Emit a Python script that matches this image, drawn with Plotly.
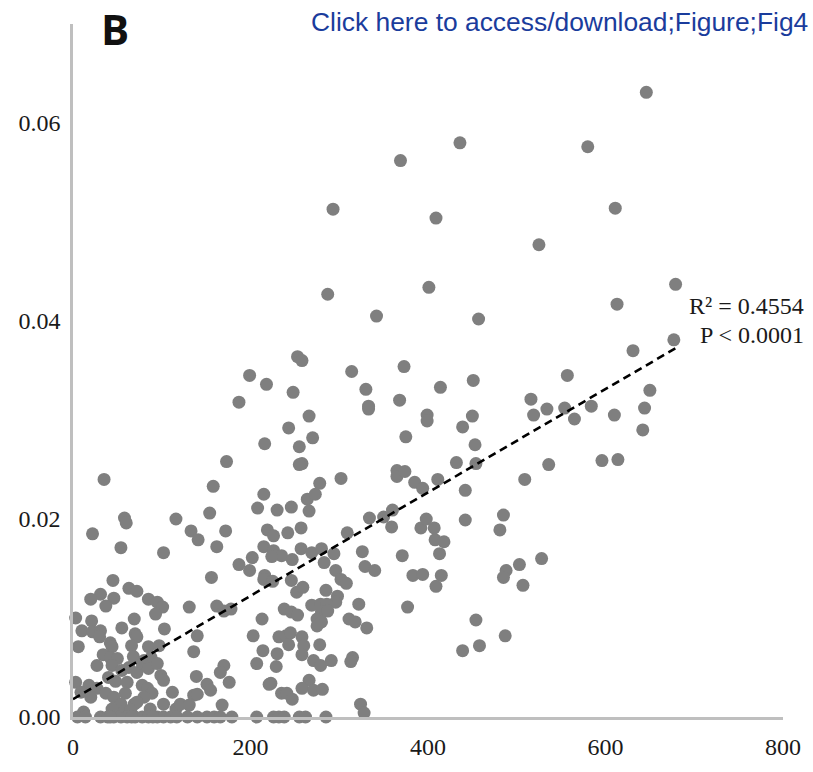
import plotly.graph_objects as go

# ---- data ----
x_vals = [
    646, 580, 436, 369, 611, 293, 409, 525, 679, 401, 287, 613, 457, 342, 677, 631,
    253, 258, 199, 218, 248, 187, 314, 330, 333, 333, 373, 368, 266, 243, 270, 216,
    255, 375, 258, 255, 173, 302, 278, 365, 365, 374, 385, 215, 264, 273, 208, 230,
    246, 266, 172, 219, 226, 242, 257, 334, 350, 360, 359, 309, 392, 215, 226, 235,
    224, 257, 269, 280, 294, 202, 187, 199, 247, 283, 296, 326, 329, 340, 371, 216,
    383, 215, 225, 246, 252, 259, 285, 302, 308, 298, 296, 322, 269, 279, 286, 238,
    246, 253, 280, 287, 275, 280, 275, 178, 377, 213, 311, 318, 331, 203, 232, 240,
    245, 243, 258, 260, 258, 278, 214, 230, 207, 229, 271, 279, 291, 315, 313, 170,
    166, 176, 223, 221, 266, 258, 271, 281, 235, 241, 247, 324, 328, 168,
    45, 63, 72, 31, 20, 46, 37, 85, 95, 101, 93, 131, 156, 162, 170,
    3, 21, 10, 22, 31, 30, 55, 69, 70, 72, 103, 140, 6, 42, 44, 34, 42, 50, 66, 68,
    85, 97, 88, 80, 136, 27, 44, 55, 63, 72, 78, 85, 95, 99, 102, 40, 48, 139,
    3, 18, 27, 61, 59, 78, 84, 89, 80, 112, 151, 155, 136, 140, 9, 20, 37, 46,
    54, 69, 72, 102, 116, 121, 131, 12, 44, 57, 65, 87,
    5, 31, 39, 46, 54, 61, 70, 78, 85, 95, 102, 110, 117, 129, 151, 159, 166, 179,
    207, 226, 232, 238, 255, 262, 285, 42, 66, 90, 140, 14,
    35, 158, 154, 58, 60, 116, 22, 133, 141, 54, 102, 162,
    414, 451, 557, 399, 399, 450, 439, 516, 534, 519, 554, 565, 453, 432, 454, 536,
    394, 411, 442, 509, 398, 407, 442, 485, 481, 408, 418, 413, 394, 415, 409, 528,
    503, 488, 485, 507, 454, 439, 458, 487,
    650, 584, 610, 644, 642, 596, 614,
]
y_vals = [
    0.0631, 0.0576, 0.0580, 0.0562, 0.0514, 0.0513, 0.0504, 0.0477, 0.0437, 0.0434, 0.0427, 0.0417, 0.0402, 0.0405, 0.0381, 0.0370,
    0.0364, 0.0360, 0.0345, 0.0336, 0.0328, 0.0318, 0.0349, 0.0331, 0.0314, 0.0311, 0.0354, 0.0320, 0.0304, 0.0292, 0.0282, 0.0276,
    0.0273, 0.0283, 0.0256, 0.0255, 0.0258, 0.0241, 0.0236, 0.0249, 0.0243, 0.0248, 0.0237, 0.0225, 0.0220, 0.0225, 0.0211, 0.0209,
    0.0212, 0.0208, 0.0188, 0.0189, 0.0183, 0.0186, 0.0191, 0.0201, 0.0202, 0.0209, 0.0192, 0.0186, 0.0191, 0.0172, 0.0168, 0.0163,
    0.0162, 0.0170, 0.0166, 0.0170, 0.0165, 0.0161, 0.0154, 0.0148, 0.0159, 0.0156, 0.0148, 0.0167, 0.0152, 0.0148, 0.0163, 0.0143,
    0.0143, 0.0139, 0.0137, 0.0138, 0.0126, 0.0131, 0.0128, 0.0139, 0.0135, 0.0122, 0.0116, 0.0114, 0.0113, 0.0114, 0.0114, 0.0109,
    0.0106, 0.0103, 0.0106, 0.0107, 0.0099, 0.0096, 0.0092, 0.0109, 0.0111, 0.0099, 0.0099, 0.0096, 0.0090, 0.0082, 0.0081, 0.0082,
    0.0085, 0.0073, 0.0081, 0.0072, 0.0063, 0.0073, 0.0067, 0.0064, 0.0054, 0.0051, 0.0057, 0.0052, 0.0057, 0.0060, 0.0056, 0.0052,
    0.0045, 0.0035, 0.0034, 0.0033, 0.0037, 0.0029, 0.0027, 0.0028, 0.0024, 0.0024, 0.0018, 0.0013, 0.0004, 0.0012,
    0.0138, 0.0130, 0.0127, 0.0124, 0.0119, 0.0120, 0.0112, 0.0119, 0.0116, 0.0111, 0.0104, 0.0111, 0.0141, 0.0112, 0.0107,
    0.0100, 0.0097, 0.0087, 0.0086, 0.0087, 0.0081, 0.0090, 0.0099, 0.0084, 0.0081, 0.0089, 0.0082, 0.0071, 0.0075, 0.0071, 0.0063, 0.0060, 0.0059, 0.0072, 0.0061,
    0.0071, 0.0072, 0.0060, 0.0057, 0.0066, 0.0052, 0.0052, 0.0047, 0.0050, 0.0045, 0.0054, 0.0049, 0.0054, 0.0042, 0.0037, 0.0040, 0.0036, 0.0041,
    0.0035, 0.0032, 0.0029, 0.0035, 0.0024, 0.0032, 0.0029, 0.0024, 0.0020, 0.0025, 0.0033, 0.0027, 0.0022, 0.0023, 0.0025, 0.0020, 0.0024, 0.0020,
    0.0013, 0.0013, 0.0015, 0.0013, 0.0008, 0.0013, 0.0012, 0.0005, 0.0008, 0.0005, 0.0007, 0.0008,
    0.0, 0.0, 0.0, 0.0, 0.0, 0.0, 0.0, 0.0, 0.0, 0.0, 0.0, 0.0, 0.0, 0.0, 0.0, 0.0, 0.0, 0.0,
    0.0, 0.0, 0.0, 0.0, 0.0, 0.0, 0.0, 0.0, 0.0, 0.0, 0.0, 0.0,
    0.0240, 0.0233, 0.0206, 0.0201, 0.0196, 0.0200, 0.0185, 0.0188, 0.0179, 0.0171, 0.0166, 0.0172,
    0.0333, 0.0340, 0.0345, 0.0305, 0.0299, 0.0304, 0.0293, 0.0321, 0.0311, 0.0305, 0.0312, 0.0301, 0.0275, 0.0257, 0.0256, 0.0255,
    0.0231, 0.0240, 0.0229, 0.0240, 0.0200, 0.0191, 0.0199, 0.0204, 0.0189, 0.0179, 0.0177, 0.0165, 0.0144, 0.0143, 0.0132, 0.0160,
    0.0154, 0.0148, 0.0141, 0.0133, 0.0098, 0.0067, 0.0072, 0.0082,
    0.0330, 0.0314, 0.0305, 0.0312, 0.0290, 0.0259, 0.0260,
]

trend_x = [0, 680]
trend_y = [0.0018, 0.0373]

x_ticks = [0, 200, 400, 600, 800]
y_ticks = [0.00, 0.02, 0.04, 0.06]
y_ticktext = ["0.00", "0.02", "0.04", "0.06"]

panel_label = "B"
link_text = "Click here to access/download;Figure;Fig4"
stat_lines = ["R\u00b2 = 0.4554", "P < 0.0001"]

serif = "Liberation Serif, Times New Roman, serif"

fig = go.Figure()
fig.add_trace(go.Scatter(
    x=x_vals, y=y_vals, mode="markers",
    marker=dict(size=13, color="#7f7f7f", line=dict(width=0)),
    cliponaxis=False, showlegend=False, hoverinfo="skip",
))
fig.add_trace(go.Scatter(
    x=trend_x, y=trend_y, mode="lines",
    line=dict(color="black", width=2.6, dash="8px,5px"),
    showlegend=False, hoverinfo="skip",
))

fig.update_layout(
    width=813, height=772,
    margin=dict(l=73, r=30, t=24, b=52),
    paper_bgcolor="white", plot_bgcolor="white",
    xaxis=dict(
        range=[0, 800], tickvals=x_ticks, showgrid=False, zeroline=False,
        showline=True, linecolor="#bfbfbf", linewidth=2.5, ticks="",
        tickfont=dict(family=serif, size=24, color="#1a1a1a"),
        ticklabelstandoff=6,
    ),
    yaxis=dict(
        range=[0, 0.07], tickvals=y_ticks, ticktext=y_ticktext,
        showgrid=False, zeroline=False,
        showline=True, linecolor="#bfbfbf", linewidth=2.5, ticks="",
        tickfont=dict(family=serif, size=24, color="#1a1a1a"),
        ticklabelstandoff=5,
    ),
)

fig.add_annotation(
    text="<b>%s</b>" % panel_label, xref="paper", yref="paper",
    x=0.0592, y=(720 - 29) / 696, xanchor="center", yanchor="middle", showarrow=False,
    font=dict(family="Open Sans, Liberation Sans, Arial", size=42, color="#111111"),
)
fig.add_annotation(
    text=link_text, xref="paper", yref="paper",
    x=(309 - 73) / 710, y=1.003, xanchor="left", yanchor="middle", showarrow=False,
    font=dict(family="Liberation Sans, Arial", size=26.4, color="#1a3c9c"),
)
fig.add_annotation(
    text=stat_lines[0], xref="paper", yref="paper",
    x=1.0324, y=(720 - 307) / 696, xanchor="right", yanchor="middle", showarrow=False,
    font=dict(family=serif, size=24, color="#1a1a1a"),
)
fig.add_annotation(
    text=stat_lines[1], xref="paper", yref="paper",
    x=1.0324, y=(720 - 336) / 696, xanchor="right", yanchor="middle", showarrow=False,
    font=dict(family=serif, size=24, color="#1a1a1a"),
)

fig.write_html(
    "out.html",
    config={"displayModeBar": False},
    post_script="document.body.style.margin='0';document.body.style.padding='0';",
)
